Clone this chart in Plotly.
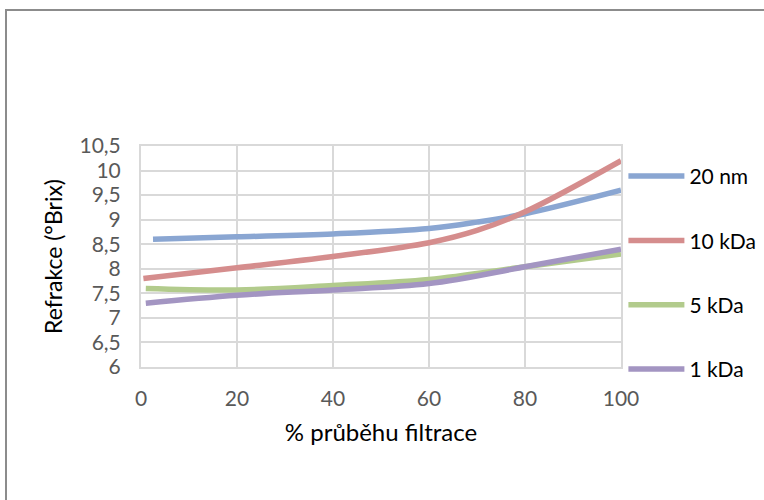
import plotly.graph_objects as go

x_20nm = [2.5, 20, 40, 60, 70, 80, 100]
y_20nm = [8.6, 8.65, 8.71, 8.82, 8.95, 9.12, 9.6]
x_10kDa = [0.5, 20, 40, 60, 70, 80, 100]
y_10kDa = [7.8, 8.02, 8.25, 8.53, 8.78, 9.16, 10.2]
x_5kDa = [1, 20, 40, 60, 80, 100]
y_5kDa = [7.6, 7.57, 7.66, 7.78, 8.04, 8.3]
x_1kDa = [1, 20, 40, 60, 80, 100]
y_1kDa = [7.3, 7.46, 7.57, 7.7, 8.04, 8.4]

series = [
    ("20 nm", x_20nm, y_20nm, "#8AA6D2"),
    ("10 kDa", x_10kDa, y_10kDa, "#D58D8D"),
    ("5 kDa", x_5kDa, y_5kDa, "#B2CB8C"),
    ("1 kDa", x_1kDa, y_1kDa, "#A395C2"),
]

FONT = "Lato, Open Sans, sans-serif"

fig = go.Figure()
for name, xs, ys, col in series:
    fig.add_trace(go.Scatter(x=xs, y=ys, name=name, mode="lines", legendgroup=name,
                             line=dict(color=col, width=5.5, shape="spline", smoothing=1.0)))

axis_font = dict(family=FONT, size=21, color="#595959")
fig.update_layout(
    width=764, height=500,
    margin=dict(l=141, r=143, t=146, b=133, autoexpand=False),
    paper_bgcolor="white", plot_bgcolor="white",
    separators=", ",
    font=dict(family=FONT, color="#000000"),
    xaxis=dict(range=[0, 100], tickvals=[0, 20, 40, 60, 80, 100],
               showgrid=True, gridcolor="#D9D9D9", gridwidth=2,
               showline=True, linecolor="#D9D9D9", linewidth=2, mirror=True,
               zeroline=False, tickfont=axis_font, ticks="", ticklen=0,
               ticklabelstandoff=12,
               title=dict(text="% průběhu filtrace", standoff=15,
                          font=dict(family=FONT, size=24, color="#000"))),
    yaxis=dict(range=[6, 10.5], tickvals=[6, 6.5, 7, 7.5, 8, 8.5, 9, 9.5, 10, 10.5],
               showgrid=True, gridcolor="#D9D9D9", gridwidth=2,
               showline=True, linecolor="#D9D9D9", linewidth=2, mirror=True,
               zeroline=False, tickfont=axis_font, ticks="", ticklen=0,
               ticklabelstandoff=14,
               title=dict(text="Refrakce (°Brix)", standoff=10,
                          font=dict(family=FONT, size=23, color="#000"))),
    legend=dict(x=1.005, xanchor="left", y=0.955, yanchor="top",
                font=dict(family=FONT, size=21, color="#000"), maxheight=400,
                tracegroupgap=34, bgcolor="rgba(0,0,0,0)", itemwidth=56),
    showlegend=True,
)
fig.add_shape(type="rect", xref="paper", yref="paper",
              x0=(6 - 141) / 480, x1=2.0, y0=-1.0, y1=(367 - 10) / 221,
              line=dict(color="#8C8C8C", width=2), fillcolor="rgba(0,0,0,0)", layer="below")
fig.write_html("out.html")
